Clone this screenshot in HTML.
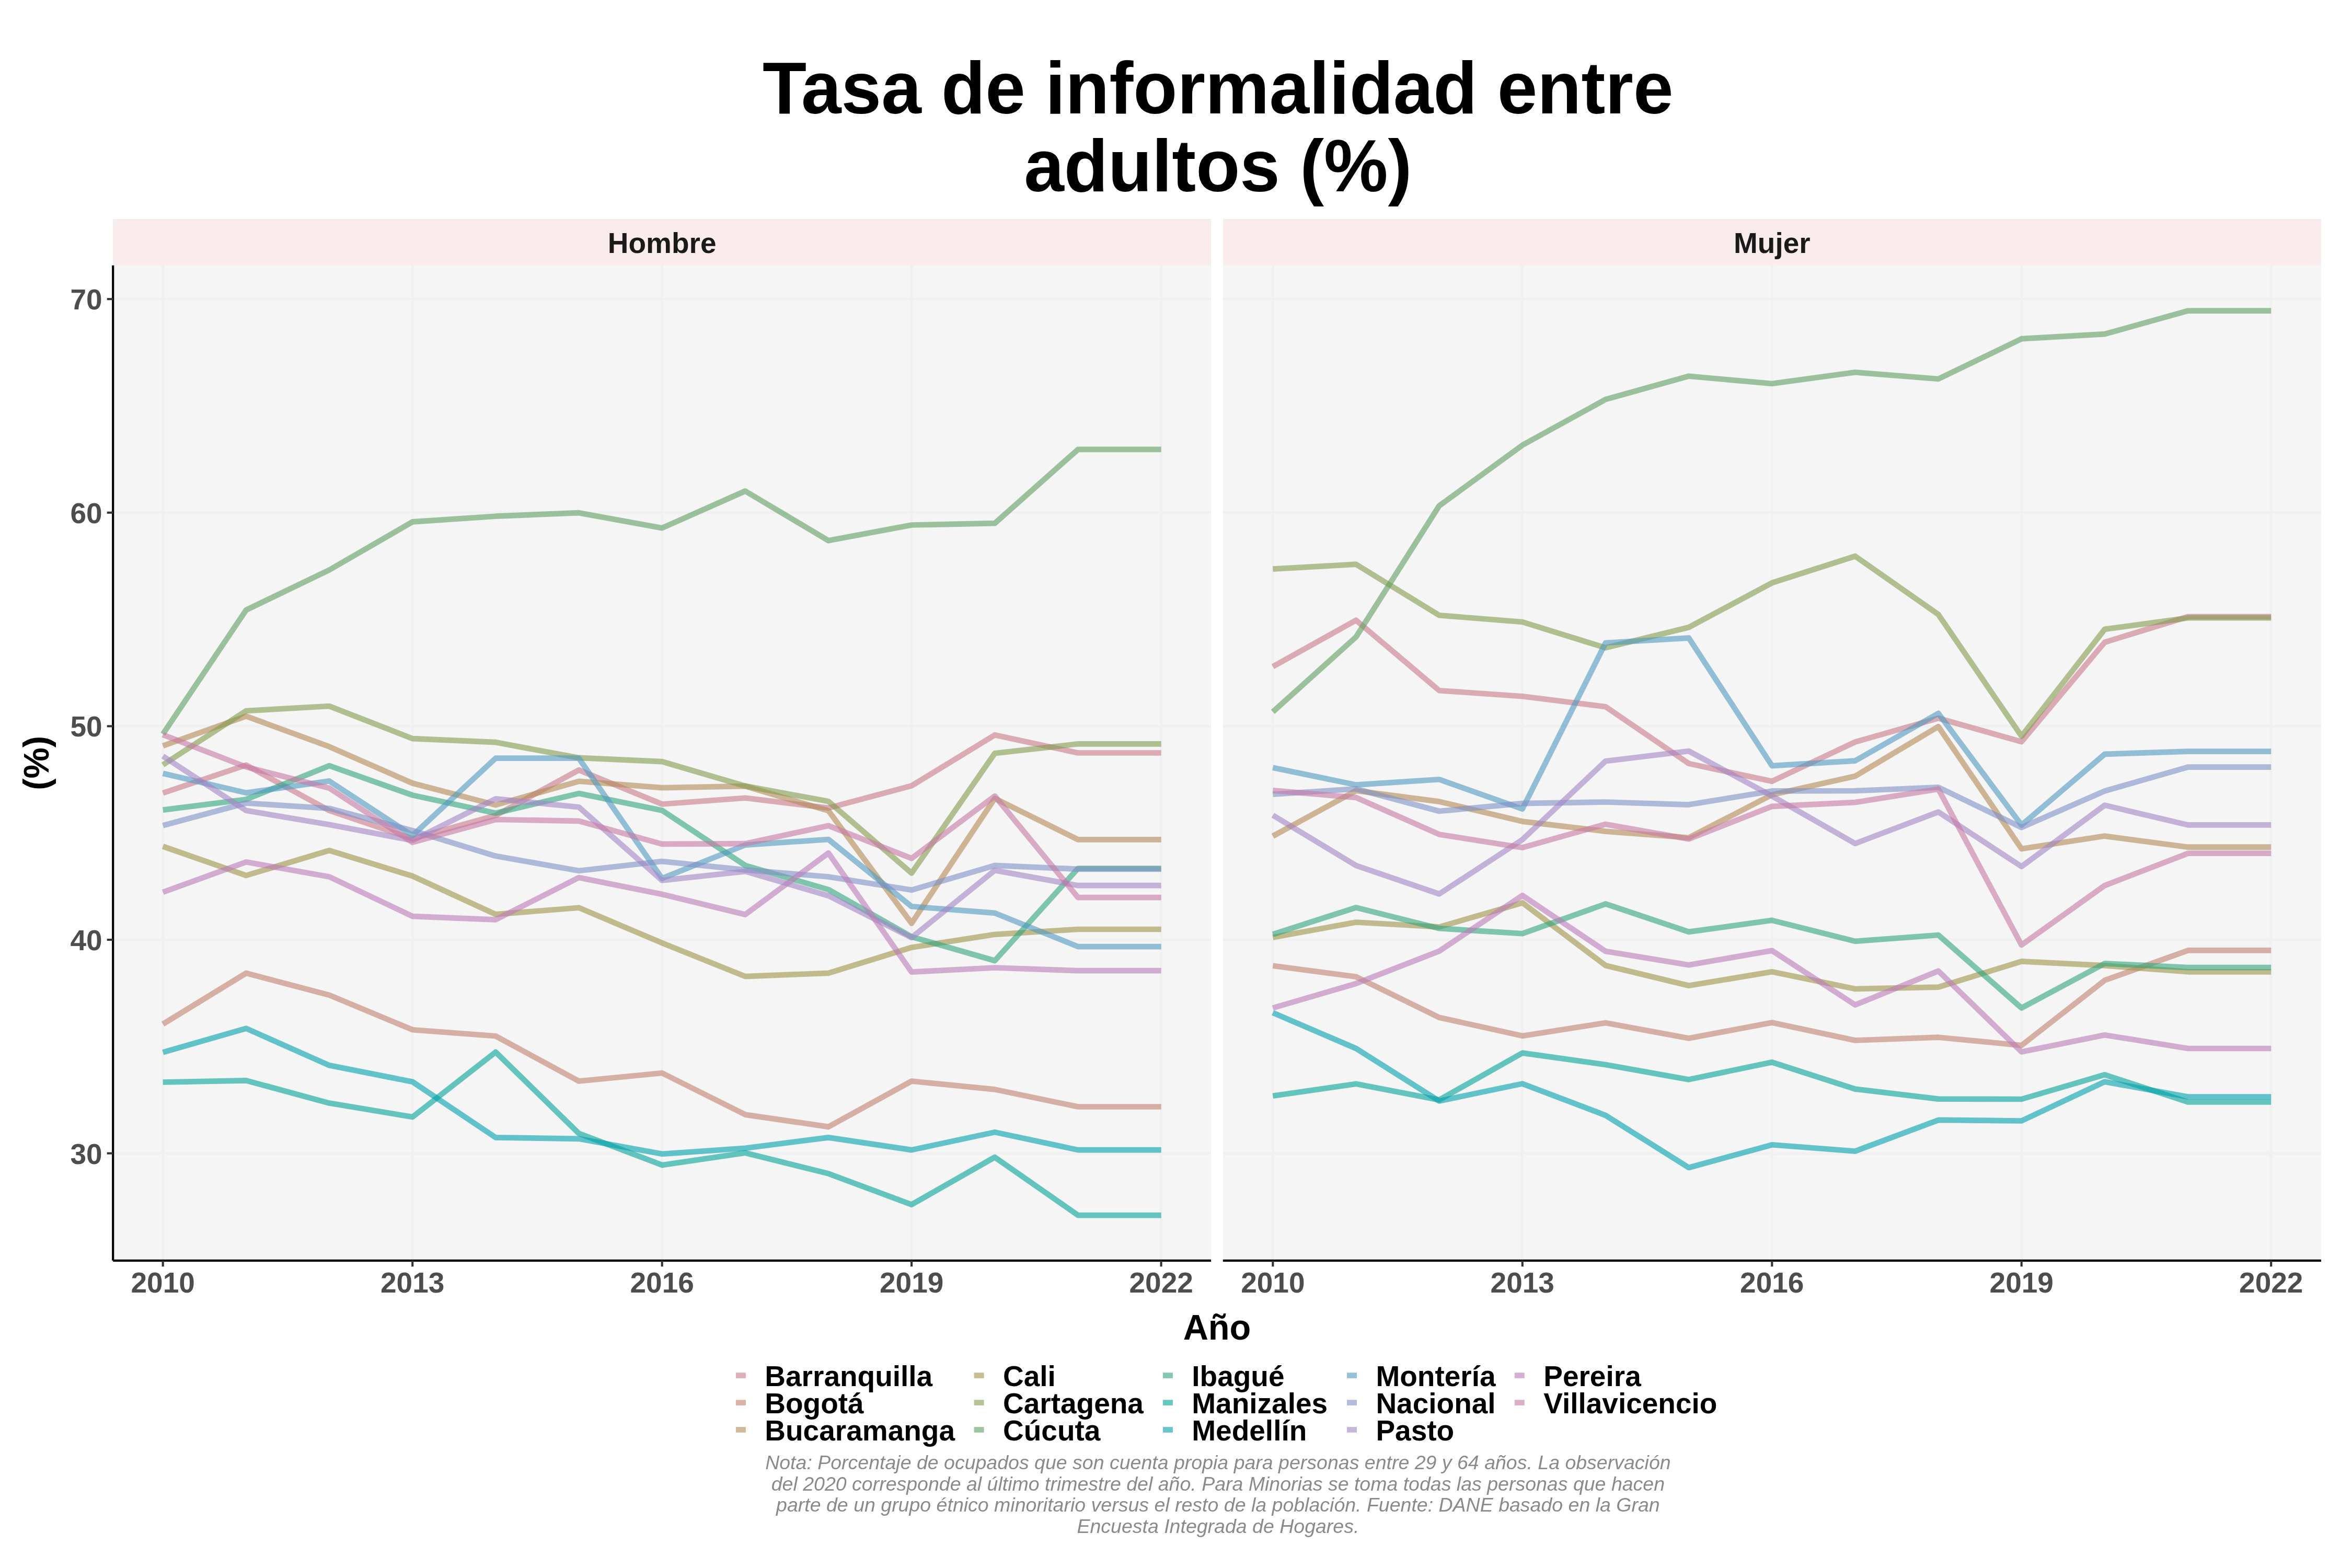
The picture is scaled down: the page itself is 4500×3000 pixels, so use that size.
<!DOCTYPE html>
<html><head><meta charset="utf-8"><title>Tasa de informalidad entre adultos (%)</title>
<style>html,body{margin:0;padding:0;background:#fff;}body{width:4500px;height:3000px;position:relative;overflow:hidden;font-family:"Liberation Sans", sans-serif;}</style>
</head><body>
<svg width="4500" height="3000" viewBox="0 0 4500 3000" style="position:absolute;left:0;top:0;font-family:'Liberation Sans', sans-serif">
<rect x="0" y="0" width="4500" height="3000" fill="#FFFFFF"/>
<text transform="translate(2330.30,217.30) scale(1,1.025)" font-size="137.75" font-weight="bold" font-style="normal" text-anchor="middle" fill="#000" >Tasa de informalidad entre</text>
<text transform="translate(2330.30,366.10) scale(1,1.025)" font-size="137.75" font-weight="bold" font-style="normal" text-anchor="middle" fill="#000" >adultos (%)</text>
<rect x="216.2" y="419.1" width="2100.9" height="88.7" fill="#FAECEC"/>
<rect x="216.2" y="507.8" width="2100.9" height="1904.0" fill="#F5F5F5"/>
<line x1="216.2" x2="2317.1" y1="2206.6" y2="2206.6" stroke="#F0F0F0" stroke-width="4.6"/>
<line x1="216.2" x2="2317.1" y1="1798.0" y2="1798.0" stroke="#F0F0F0" stroke-width="4.6"/>
<line x1="216.2" x2="2317.1" y1="1389.4" y2="1389.4" stroke="#F0F0F0" stroke-width="4.6"/>
<line x1="216.2" x2="2317.1" y1="980.8" y2="980.8" stroke="#F0F0F0" stroke-width="4.6"/>
<line x1="216.2" x2="2317.1" y1="572.2" y2="572.2" stroke="#F0F0F0" stroke-width="4.6"/>
<line x1="311.7" x2="311.7" y1="507.8" y2="2411.8" stroke="#F0F0F0" stroke-width="4.6"/>
<line x1="789.2" x2="789.2" y1="507.8" y2="2411.8" stroke="#F0F0F0" stroke-width="4.6"/>
<line x1="1266.7" x2="1266.7" y1="507.8" y2="2411.8" stroke="#F0F0F0" stroke-width="4.6"/>
<line x1="1744.1" x2="1744.1" y1="507.8" y2="2411.8" stroke="#F0F0F0" stroke-width="4.6"/>
<line x1="2221.6" x2="2221.6" y1="507.8" y2="2411.8" stroke="#F0F0F0" stroke-width="4.6"/>
<g fill="none" stroke-linejoin="round" stroke-linecap="butt" stroke-width="10.67">
<polyline points="311.7,1517.3 470.9,1463.8 630.0,1550.8 789.2,1604.7 948.3,1560.2 1107.5,1473.2 1266.7,1538.5 1425.8,1526.7 1585.0,1545.9 1744.1,1503.4 1903.3,1406.2 2062.5,1440.5 2221.6,1440.5" stroke="rgba(200,122,138,0.6)"/>
<polyline points="311.7,1959.4 470.9,1861.9 630.0,1903.8 789.2,1970.2 948.3,1982.3 1107.5,2068.5 1266.7,2053.0 1425.8,2132.6 1585.0,2155.9 1744.1,2068.5 1903.3,2084.4 2062.5,2117.5 2221.6,2117.5" stroke="rgba(193,129,110,0.6)"/>
<polyline points="311.7,1427.0 470.9,1370.2 630.0,1428.6 789.2,1498.5 948.3,1540.2 1107.5,1494.8 1266.7,1507.1 1425.8,1504.2 1585.0,1551.2 1744.1,1766.5 1903.3,1527.5 2062.5,1606.4 2221.6,1606.4" stroke="rgba(178,137,85,0.6)"/>
<polyline points="311.7,1619.4 470.9,1675.0 630.0,1627.2 789.2,1676.2 948.3,1749.4 1107.5,1736.7 1266.7,1804.1 1425.8,1868.1 1585.0,1861.9 1744.1,1812.7 1903.3,1787.8 2062.5,1778.0 2221.6,1778.0" stroke="rgba(157,146,70,0.6)"/>
<polyline points="311.7,1463.4 470.9,1360.0 630.0,1351.0 789.2,1413.1 948.3,1420.2 1107.5,1449.9 1266.7,1457.2 1425.8,1503.8 1585.0,1533.2 1744.1,1670.5 1903.3,1441.3 2062.5,1423.3 2221.6,1423.3" stroke="rgba(130,153,76,0.6)"/>
<polyline points="311.7,1404.5 470.9,1167.1 630.0,1090.5 789.2,998.4 948.3,987.7 1107.5,981.2 1266.7,1010.2 1425.8,939.5 1585.0,1034.3 1744.1,1004.5 1903.3,1001.2 2062.5,859.9 2221.6,859.9" stroke="rgba(95,159,97,0.6)"/>
<polyline points="311.7,1549.6 470.9,1529.5 630.0,1465.0 789.2,1521.4 948.3,1555.7 1107.5,1518.1 1266.7,1550.4 1425.8,1655.8 1585.0,1702.0 1744.1,1792.3 1903.3,1838.0 2062.5,1661.5 2221.6,1661.5" stroke="rgba(48,163,124,0.6)"/>
<polyline points="311.7,2070.5 470.9,2067.3 630.0,2110.6 789.2,2137.1 948.3,2012.9 1107.5,2168.6 1266.7,2229.1 1425.8,2205.8 1585.0,2245.4 1744.1,2304.7 1903.3,2214.0 2062.5,2325.1 2221.6,2325.1" stroke="rgba(0,163,150,0.6)"/>
<polyline points="311.7,2013.3 470.9,1967.6 630.0,2038.3 789.2,2069.7 948.3,2176.4 1107.5,2178.8 1266.7,2207.8 1425.8,2196.8 1585.0,2176.4 1744.1,2200.1 1903.3,2166.1 2062.5,2200.1 2221.6,2200.1" stroke="rgba(0,160,174,0.6)"/>
<polyline points="311.7,1479.7 470.9,1516.9 630.0,1494.4 789.2,1598.6 948.3,1450.7 1107.5,1450.7 1266.7,1680.7 1425.8,1616.6 1585.0,1606.0 1744.1,1734.3 1903.3,1746.9 2062.5,1811.1 2221.6,1811.1" stroke="rgba(78,153,190,0.6)"/>
<polyline points="311.7,1579.4 470.9,1536.5 630.0,1546.7 789.2,1589.2 948.3,1637.8 1107.5,1666.0 1266.7,1648.0 1425.8,1664.4 1585.0,1677.5 1744.1,1702.8 1903.3,1655.8 2062.5,1662.8 2221.6,1662.8" stroke="rgba(126,143,199,0.6)"/>
<polyline points="311.7,1446.6 470.9,1550.8 630.0,1577.8 789.2,1608.0 948.3,1528.3 1107.5,1544.3 1266.7,1684.4 1425.8,1667.2 1585.0,1713.8 1744.1,1793.9 1903.3,1665.2 2062.5,1694.2 2221.6,1694.2" stroke="rgba(162,132,197,0.6)"/>
<polyline points="311.7,1706.9 470.9,1649.3 630.0,1677.5 789.2,1753.1 948.3,1759.6 1107.5,1679.1 1266.7,1711.0 1425.8,1749.8 1585.0,1632.1 1744.1,1859.7 1903.3,1851.5 2062.5,1857.2 2221.6,1857.2" stroke="rgba(186,123,184,0.6)"/>
<polyline points="311.7,1405.7 470.9,1467.4 630.0,1507.9 789.2,1611.7 948.3,1568.0 1107.5,1570.8 1266.7,1614.9 1425.8,1614.1 1585.0,1579.8 1744.1,1642.3 1903.3,1523.0 2062.5,1717.1 2221.6,1717.1" stroke="rgba(198,120,164,0.6)"/>
</g>
<line x1="216.2" x2="2317.1" y1="2411.8" y2="2411.8" stroke="#000" stroke-width="4.2"/>
<line x1="311.7" x2="311.7" y1="2411.8" y2="2423.3" stroke="#333" stroke-width="4.1"/>
<text transform="translate(311.70,2473.40) scale(1,1.0)" font-size="55" font-weight="bold" font-style="normal" text-anchor="middle" fill="#4D4D4D" >2010</text>
<line x1="789.2" x2="789.2" y1="2411.8" y2="2423.3" stroke="#333" stroke-width="4.1"/>
<text transform="translate(789.18,2473.40) scale(1,1.0)" font-size="55" font-weight="bold" font-style="normal" text-anchor="middle" fill="#4D4D4D" >2013</text>
<line x1="1266.7" x2="1266.7" y1="2411.8" y2="2423.3" stroke="#333" stroke-width="4.1"/>
<text transform="translate(1266.66,2473.40) scale(1,1.0)" font-size="55" font-weight="bold" font-style="normal" text-anchor="middle" fill="#4D4D4D" >2016</text>
<line x1="1744.1" x2="1744.1" y1="2411.8" y2="2423.3" stroke="#333" stroke-width="4.1"/>
<text transform="translate(1744.14,2473.40) scale(1,1.0)" font-size="55" font-weight="bold" font-style="normal" text-anchor="middle" fill="#4D4D4D" >2019</text>
<line x1="2221.6" x2="2221.6" y1="2411.8" y2="2423.3" stroke="#333" stroke-width="4.1"/>
<text transform="translate(2221.62,2473.40) scale(1,1.0)" font-size="55" font-weight="bold" font-style="normal" text-anchor="middle" fill="#4D4D4D" >2022</text>
<text transform="translate(1266.65,483.80) scale(1,1.02)" font-size="55" font-weight="bold" font-style="normal" text-anchor="middle" fill="#1A1A1A" >Hombre</text>
<rect x="2339.8" y="419.1" width="2101.1" height="88.7" fill="#FAECEC"/>
<rect x="2339.8" y="507.8" width="2101.1" height="1904.0" fill="#F5F5F5"/>
<line x1="2339.8" x2="4440.9" y1="2206.6" y2="2206.6" stroke="#F0F0F0" stroke-width="4.6"/>
<line x1="2339.8" x2="4440.9" y1="1798.0" y2="1798.0" stroke="#F0F0F0" stroke-width="4.6"/>
<line x1="2339.8" x2="4440.9" y1="1389.4" y2="1389.4" stroke="#F0F0F0" stroke-width="4.6"/>
<line x1="2339.8" x2="4440.9" y1="980.8" y2="980.8" stroke="#F0F0F0" stroke-width="4.6"/>
<line x1="2339.8" x2="4440.9" y1="572.2" y2="572.2" stroke="#F0F0F0" stroke-width="4.6"/>
<line x1="2435.3" x2="2435.3" y1="507.8" y2="2411.8" stroke="#F0F0F0" stroke-width="4.6"/>
<line x1="2912.8" x2="2912.8" y1="507.8" y2="2411.8" stroke="#F0F0F0" stroke-width="4.6"/>
<line x1="3390.3" x2="3390.3" y1="507.8" y2="2411.8" stroke="#F0F0F0" stroke-width="4.6"/>
<line x1="3867.7" x2="3867.7" y1="507.8" y2="2411.8" stroke="#F0F0F0" stroke-width="4.6"/>
<line x1="4345.2" x2="4345.2" y1="507.8" y2="2411.8" stroke="#F0F0F0" stroke-width="4.6"/>
<g fill="none" stroke-linejoin="round" stroke-linecap="butt" stroke-width="10.67">
<polyline points="2435.3,1275.4 2594.5,1186.7 2753.6,1321.2 2912.8,1332.2 3071.9,1352.2 3231.1,1460.9 3390.3,1494.8 3549.4,1419.6 3708.6,1374.1 3867.7,1419.2 4026.9,1228.8 4186.1,1179.8 4345.2,1179.8" stroke="rgba(200,122,138,0.6)"/>
<polyline points="2435.3,1847.8 2594.5,1868.7 2753.6,1946.7 2912.8,1981.9 3071.9,1956.9 3231.1,1986.4 3390.3,1956.5 3549.4,1990.5 3708.6,1984.7 3867.7,2000.1 4026.9,1875.6 4186.1,1818.4 4345.2,1818.4" stroke="rgba(193,129,110,0.6)"/>
<polyline points="2435.3,1599.8 2594.5,1512.8 2753.6,1533.6 2912.8,1571.6 3071.9,1590.6 3231.1,1602.7 3390.3,1520.6 3549.4,1485.0 3708.6,1390.2 3867.7,1623.9 4026.9,1599.6 4186.1,1620.7 4345.2,1620.7" stroke="rgba(178,137,85,0.6)"/>
<polyline points="2435.3,1793.5 2594.5,1764.5 2753.6,1773.5 2912.8,1727.3 3071.9,1847.2 3231.1,1885.8 3390.3,1859.3 3549.4,1892.0 3708.6,1888.7 3867.7,1839.3 4026.9,1847.4 4186.1,1859.3 4345.2,1859.3" stroke="rgba(157,146,70,0.6)"/>
<polyline points="2435.3,1088.7 2594.5,1079.7 2753.6,1177.3 2912.8,1190.0 3071.9,1239.4 3231.1,1200.2 3390.3,1115.2 3549.4,1064.2 3708.6,1175.7 3867.7,1408.6 4026.9,1203.9 4186.1,1182.2 4345.2,1182.2" stroke="rgba(130,153,76,0.6)"/>
<polyline points="2435.3,1362.0 2594.5,1218.6 2753.6,967.7 2912.8,851.7 3071.9,764.2 3231.1,719.7 3390.3,734.0 3549.4,712.3 3708.6,725.0 3867.7,648.2 4026.9,639.2 4186.1,594.7 4345.2,594.7" stroke="rgba(95,159,97,0.6)"/>
<polyline points="2435.3,1787.6 2594.5,1736.3 2753.6,1776.3 2912.8,1786.2 3071.9,1729.4 3231.1,1782.9 3390.3,1760.8 3549.4,1800.9 3708.6,1789.0 3867.7,1928.5 4026.9,1843.4 4186.1,1851.1 4345.2,1851.1" stroke="rgba(48,163,124,0.6)"/>
<polyline points="2435.3,2096.7 2594.5,2073.8 2753.6,2104.4 2912.8,2014.6 3071.9,2037.0 3231.1,2065.4 3390.3,2032.3 3549.4,2083.6 3708.6,2102.6 3867.7,2103.0 4026.9,2056.2 4186.1,2108.5 4345.2,2108.5" stroke="rgba(0,163,150,0.6)"/>
<polyline points="2435.3,1937.7 2594.5,2006.0 2753.6,2106.5 2912.8,2073.4 3071.9,2133.9 3231.1,2234.0 3390.3,2190.3 3549.4,2202.5 3708.6,2142.9 3867.7,2144.5 4026.9,2069.7 4186.1,2098.5 4345.2,2098.5" stroke="rgba(0,160,174,0.6)"/>
<polyline points="2435.3,1468.7 2594.5,1501.6 2753.6,1491.3 2912.8,1547.7 3071.9,1230.0 3231.1,1220.6 3390.3,1465.2 3549.4,1455.6 3708.6,1364.9 3867.7,1578.6 4026.9,1442.9 4186.1,1437.6 4345.2,1437.6" stroke="rgba(78,153,190,0.6)"/>
<polyline points="2435.3,1519.7 2594.5,1509.3 2753.6,1552.0 2912.8,1537.1 3071.9,1534.5 3231.1,1539.6 3390.3,1513.4 3549.4,1513.0 3708.6,1506.3 3867.7,1583.1 4026.9,1513.4 4186.1,1467.6 4345.2,1467.6" stroke="rgba(126,143,199,0.6)"/>
<polyline points="2435.3,1559.8 2594.5,1656.0 2753.6,1710.4 2912.8,1606.4 3071.9,1456.2 3231.1,1437.0 3390.3,1523.0 3549.4,1613.9 3708.6,1553.5 3867.7,1657.9 4026.9,1540.6 4186.1,1578.4 4345.2,1578.4" stroke="rgba(162,132,197,0.6)"/>
<polyline points="2435.3,1928.5 2594.5,1881.8 2753.6,1819.7 2912.8,1713.2 3071.9,1820.1 3231.1,1846.2 3390.3,1818.8 3549.4,1922.6 3708.6,1857.7 3867.7,2012.5 4026.9,1980.2 4186.1,2006.0 4345.2,2006.0" stroke="rgba(186,123,184,0.6)"/>
<polyline points="2435.3,1512.4 2594.5,1525.9 2753.6,1596.4 2912.8,1621.7 3071.9,1576.9 3231.1,1605.3 3390.3,1542.8 3549.4,1535.1 3708.6,1509.7 3867.7,1808.0 4026.9,1694.2 4186.1,1632.7 4345.2,1632.7" stroke="rgba(198,120,164,0.6)"/>
</g>
<line x1="2339.8" x2="4440.9" y1="2411.8" y2="2411.8" stroke="#000" stroke-width="4.2"/>
<line x1="2435.3" x2="2435.3" y1="2411.8" y2="2423.3" stroke="#333" stroke-width="4.1"/>
<text transform="translate(2435.30,2473.40) scale(1,1.0)" font-size="55" font-weight="bold" font-style="normal" text-anchor="middle" fill="#4D4D4D" >2010</text>
<line x1="2912.8" x2="2912.8" y1="2411.8" y2="2423.3" stroke="#333" stroke-width="4.1"/>
<text transform="translate(2912.78,2473.40) scale(1,1.0)" font-size="55" font-weight="bold" font-style="normal" text-anchor="middle" fill="#4D4D4D" >2013</text>
<line x1="3390.3" x2="3390.3" y1="2411.8" y2="2423.3" stroke="#333" stroke-width="4.1"/>
<text transform="translate(3390.26,2473.40) scale(1,1.0)" font-size="55" font-weight="bold" font-style="normal" text-anchor="middle" fill="#4D4D4D" >2016</text>
<line x1="3867.7" x2="3867.7" y1="2411.8" y2="2423.3" stroke="#333" stroke-width="4.1"/>
<text transform="translate(3867.74,2473.40) scale(1,1.0)" font-size="55" font-weight="bold" font-style="normal" text-anchor="middle" fill="#4D4D4D" >2019</text>
<line x1="4345.2" x2="4345.2" y1="2411.8" y2="2423.3" stroke="#333" stroke-width="4.1"/>
<text transform="translate(4345.22,2473.40) scale(1,1.0)" font-size="55" font-weight="bold" font-style="normal" text-anchor="middle" fill="#4D4D4D" >2022</text>
<text transform="translate(3390.35,483.80) scale(1,1.02)" font-size="55" font-weight="bold" font-style="normal" text-anchor="middle" fill="#1A1A1A" >Mujer</text>
<line x1="216.2" x2="216.2" y1="507.8" y2="2411.8" stroke="#000" stroke-width="4.2"/>
<line x1="204.7" x2="216.2" y1="2206.6" y2="2206.6" stroke="#333" stroke-width="4.1"/>
<text transform="translate(195.60,2226.50) scale(1,1.0)" font-size="55" font-weight="bold" font-style="normal" text-anchor="end" fill="#4D4D4D" >30</text>
<line x1="204.7" x2="216.2" y1="1798.0" y2="1798.0" stroke="#333" stroke-width="4.1"/>
<text transform="translate(195.60,1817.90) scale(1,1.0)" font-size="55" font-weight="bold" font-style="normal" text-anchor="end" fill="#4D4D4D" >40</text>
<line x1="204.7" x2="216.2" y1="1389.4" y2="1389.4" stroke="#333" stroke-width="4.1"/>
<text transform="translate(195.60,1409.30) scale(1,1.0)" font-size="55" font-weight="bold" font-style="normal" text-anchor="end" fill="#4D4D4D" >50</text>
<line x1="204.7" x2="216.2" y1="980.8" y2="980.8" stroke="#333" stroke-width="4.1"/>
<text transform="translate(195.60,1000.70) scale(1,1.0)" font-size="55" font-weight="bold" font-style="normal" text-anchor="end" fill="#4D4D4D" >60</text>
<line x1="204.7" x2="216.2" y1="572.2" y2="572.2" stroke="#333" stroke-width="4.1"/>
<text transform="translate(195.60,592.10) scale(1,1.0)" font-size="55" font-weight="bold" font-style="normal" text-anchor="end" fill="#4D4D4D" >70</text>
<text transform="translate(2328.50,2563.20) scale(1,1.02)" font-size="66.7" font-weight="bold" font-style="normal" text-anchor="middle" fill="#000" >Año</text>
<text transform="translate(92.50,1459.80) rotate(-90) scale(1,1.02)" font-size="66.7" font-weight="bold" font-style="normal" text-anchor="middle" fill="#000" >(%)</text>
<rect x="1407.9" y="2626.26" width="19" height="10.67" fill="rgba(200,122,138,0.6)"/>
<text transform="translate(1463.30,2651.80) scale(1,1.02)" font-size="55" font-weight="bold" font-style="normal" text-anchor="start" fill="#000" >Barranquilla</text>
<rect x="1407.9" y="2678.26" width="19" height="10.67" fill="rgba(193,129,110,0.6)"/>
<text transform="translate(1463.30,2703.80) scale(1,1.02)" font-size="55" font-weight="bold" font-style="normal" text-anchor="start" fill="#000" >Bogotá</text>
<rect x="1407.9" y="2730.16" width="19" height="10.67" fill="rgba(178,137,85,0.6)"/>
<text transform="translate(1463.30,2755.90) scale(1,1.02)" font-size="55" font-weight="bold" font-style="normal" text-anchor="start" fill="#000" >Bucaramanga</text>
<rect x="1863.6" y="2626.26" width="19" height="10.67" fill="rgba(157,146,70,0.6)"/>
<text transform="translate(1919.00,2651.80) scale(1,1.02)" font-size="55" font-weight="bold" font-style="normal" text-anchor="start" fill="#000" >Cali</text>
<rect x="1863.6" y="2678.26" width="19" height="10.67" fill="rgba(130,153,76,0.6)"/>
<text transform="translate(1919.00,2703.80) scale(1,1.02)" font-size="55" font-weight="bold" font-style="normal" text-anchor="start" fill="#000" >Cartagena</text>
<rect x="1863.6" y="2730.16" width="19" height="10.67" fill="rgba(95,159,97,0.6)"/>
<text transform="translate(1919.00,2755.90) scale(1,1.02)" font-size="55" font-weight="bold" font-style="normal" text-anchor="start" fill="#000" >Cúcuta</text>
<rect x="2224.9" y="2626.26" width="19" height="10.67" fill="rgba(48,163,124,0.6)"/>
<text transform="translate(2280.30,2651.80) scale(1,1.02)" font-size="55" font-weight="bold" font-style="normal" text-anchor="start" fill="#000" >Ibagué</text>
<rect x="2224.9" y="2678.26" width="19" height="10.67" fill="rgba(0,163,150,0.6)"/>
<text transform="translate(2280.30,2703.80) scale(1,1.02)" font-size="55" font-weight="bold" font-style="normal" text-anchor="start" fill="#000" >Manizales</text>
<rect x="2224.9" y="2730.16" width="19" height="10.67" fill="rgba(0,160,174,0.6)"/>
<text transform="translate(2280.30,2755.90) scale(1,1.02)" font-size="55" font-weight="bold" font-style="normal" text-anchor="start" fill="#000" >Medellín</text>
<rect x="2577.0" y="2626.26" width="19" height="10.67" fill="rgba(78,153,190,0.6)"/>
<text transform="translate(2632.40,2651.80) scale(1,1.02)" font-size="55" font-weight="bold" font-style="normal" text-anchor="start" fill="#000" >Montería</text>
<rect x="2577.0" y="2678.26" width="19" height="10.67" fill="rgba(126,143,199,0.6)"/>
<text transform="translate(2632.40,2703.80) scale(1,1.02)" font-size="55" font-weight="bold" font-style="normal" text-anchor="start" fill="#000" >Nacional</text>
<rect x="2577.0" y="2730.16" width="19" height="10.67" fill="rgba(162,132,197,0.6)"/>
<text transform="translate(2632.40,2755.90) scale(1,1.02)" font-size="55" font-weight="bold" font-style="normal" text-anchor="start" fill="#000" >Pasto</text>
<rect x="2897.8" y="2626.26" width="19" height="10.67" fill="rgba(186,123,184,0.6)"/>
<text transform="translate(2953.20,2651.80) scale(1,1.02)" font-size="55" font-weight="bold" font-style="normal" text-anchor="start" fill="#000" >Pereira</text>
<rect x="2897.8" y="2678.26" width="19" height="10.67" fill="rgba(198,120,164,0.6)"/>
<text transform="translate(2953.20,2703.80) scale(1,1.02)" font-size="55" font-weight="bold" font-style="normal" text-anchor="start" fill="#000" >Villavicencio</text>
<g opacity="0.999">
<text transform="translate(2330.40,2811.20) scale(1,1.0)" font-size="37.5" font-weight="normal" font-style="italic" text-anchor="middle" fill="#8A8A8A" >Nota: Porcentaje de ocupados que son cuenta propia para personas entre 29 y 64 años. La observación</text>
<text transform="translate(2330.40,2851.75) scale(1,1.0)" font-size="37.5" font-weight="normal" font-style="italic" text-anchor="middle" fill="#8A8A8A" >del 2020 corresponde al último trimestre del año. Para Minorias se toma todas las personas que hacen</text>
<text transform="translate(2330.40,2892.30) scale(1,1.0)" font-size="37.5" font-weight="normal" font-style="italic" text-anchor="middle" fill="#8A8A8A" >parte de un grupo étnico minoritario versus el resto de la población. Fuente: DANE basado en la Gran</text>
<text transform="translate(2330.40,2932.85) scale(1,1.0)" font-size="37.5" font-weight="normal" font-style="italic" text-anchor="middle" fill="#8A8A8A" >Encuesta Integrada de Hogares.</text>
</g>
</svg>
</body></html>
